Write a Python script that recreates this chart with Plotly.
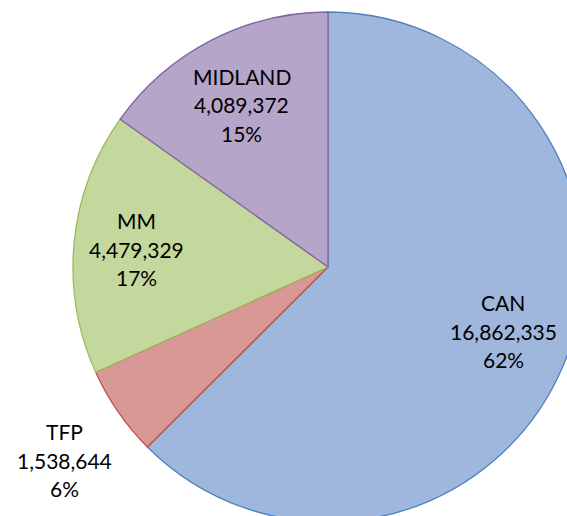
import plotly.graph_objects as go

# ---- data ----
categories = ["CAN", "TFP", "MM", "MIDLAND"]
values = [16862335, 1538644, 4479329, 4089372]
percent_labels = ["62%", "6%", "17%", "15%"]  # as printed on the chart

# ---- styles ----
fill_colors = ["#9fb7dc", "#d89896", "#c4d79d", "#b5a5c9"]
line_colors = ["#4f81bd", "#c0504d", "#9bbb59", "#8064a2"]

W, H = 600, 540  # page is cropped to 567x516 by the viewport
# pie circle: centre (328, 267) px, radius 255 px
cx, cy, r = 328, 267, 255
dom_x = [(cx - r) / W, (cx + r) / W]
dom_y = [1 - (cy + r) / H, 1 - (cy - r) / H]

fig = go.Figure(
    go.Pie(
        labels=categories,
        values=values,
        sort=False,
        direction="clockwise",
        rotation=0,
        textinfo="none",
        hoverinfo="label+value+percent",
        marker=dict(colors=fill_colors, line=dict(color=line_colors, width=1.3)),
        domain=dict(x=dom_x, y=dom_y),
        showlegend=False,
    )
)

# label centres (pixels, middle line) for each slice
label_pos = {"CAN": (503, 331), "TFP": (64, 460), "MM": (136, 249), "MIDLAND": (241.5, 105)}
line_gap = 28.7
anns = []
for cat, val, pct in zip(categories, values, percent_labels):
    px, py = label_pos[cat]
    lines = [cat, f"{val:,}", pct]
    for i, t in enumerate(lines):
        ly = py + (i - 1) * line_gap
        anns.append(dict(
            x=px / W, y=1 - ly / H, xref="paper", yref="paper",
            text=t, showarrow=False, xanchor="center", yanchor="middle",
            font=dict(family="Lato, 'Open Sans', sans-serif", size=21, color="#000000"),
        ))

fig.update_layout(
    width=W, height=H,
    margin=dict(l=0, r=0, t=0, b=0),
    paper_bgcolor="white", plot_bgcolor="white",
    annotations=anns,
)

fig.write_html(
    "out.html",
    config={"displayModeBar": False},
    post_script="document.body.style.margin='0';document.body.style.overflow='hidden';",
)
